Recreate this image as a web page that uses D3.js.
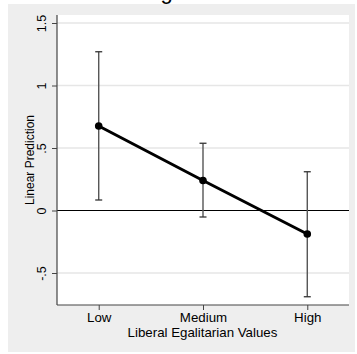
<!DOCTYPE html>
<html>
<head>
<meta charset="utf-8">
<script src="https://cdn.jsdelivr.net/npm/d3@7"></script>
<style>
  html, body { margin: 0; padding: 0; background: #ffffff; }
  svg { display: block; }
  text { font-family: "Liberation Sans", Arial, Helvetica, sans-serif; }
</style>
</head>
<body>
<svg id="chart" width="357" height="354"></svg>
<script>
// Predicted values by level of liberal egalitarian values, with 95% CIs
const categories = ["Low", "Medium", "High"];
const levels = [1, 2, 3];
const margins = [0.676, 0.24, -0.188];
const ciLower = [0.084, -0.052, -0.69];
const ciUpper = [1.27, 0.538, 0.31];
const yTicks = [-0.5, 0, 0.5, 1, 1.5];
const yTickLabels = ["-.5", "0", ".5", "1", "1.5"];

const svg = d3.select("#chart");
const plot = { left: 57, right: 349, top: 15, bottom: 305 };

// Graph region background
svg.append("rect")
  .attr("x", 8).attr("y", 4)
  .attr("width", 347).attr("height", 348)
  .attr("fill", "#eeeeee");

// Title, sitting mostly above the visible area
const title = svg.append("text")
  .attr("y", -1.5)
  .attr("text-anchor", "start")
  .attr("font-size", 22)
  .attr("fill", "#000")
  .text("Predictive Margins");
{
  const t = title.text();
  const gi = t.indexOf("g");
  const start = title.node().getStartPositionOfChar(gi).x;
  const end = title.node().getEndPositionOfChar(gi).x;
  title.attr("x", 166.5 - (start + end) / 2);
}

// Plot region
svg.append("rect")
  .attr("x", plot.left).attr("y", plot.top)
  .attr("width", plot.right - plot.left).attr("height", plot.bottom - plot.top)
  .attr("fill", "#ffffff");

const x = d3.scaleLinear().domain([0.6, 3.4]).range([plot.left, plot.right]);
const y = d3.scaleLinear().domain([-0.756, 1.564]).range([plot.bottom, plot.top]);

// Horizontal gridlines
svg.append("g")
  .selectAll("line")
  .data(yTicks.filter(v => v !== 0))
  .join("line")
  .attr("x1", plot.left).attr("x2", plot.right)
  .attr("y1", d => y(d)).attr("y2", d => y(d))
  .attr("stroke", "#e6e6e6")
  .attr("stroke-width", 1.6);

// Reference line at zero
svg.append("line")
  .attr("x1", plot.left).attr("x2", plot.right)
  .attr("y1", y(0)).attr("y2", y(0))
  .attr("stroke", "#000")
  .attr("stroke-width", 1.2);

// Axes
const yAxis = d3.axisLeft(y)
  .tickValues(yTicks)
  .tickFormat((d, i) => yTickLabels[i])
  .tickSize(5)
  .tickPadding(4);
const gy = svg.append("g")
  .attr("transform", `translate(${plot.left},0)`)
  .call(yAxis);
gy.select(".domain").attr("stroke", "#444").attr("stroke-width", 1.2)
  .attr("d", `M0,${plot.top}V${plot.bottom}`);
gy.selectAll(".tick line").attr("stroke", "#444");
gy.selectAll(".tick text")
  .attr("font-size", 12.5)
  .attr("fill", "#000")
  .attr("text-anchor", "middle")
  .attr("dy", "0")
  .attr("x", 0)
  .attr("y", -11)
  .attr("transform", "rotate(-90)");

const xAxis = d3.axisBottom(x)
  .tickValues(levels)
  .tickFormat((d, i) => categories[i])
  .tickSize(5)
  .tickPadding(3);
const gx = svg.append("g")
  .attr("transform", `translate(0,${plot.bottom})`)
  .call(xAxis);
gx.select(".domain").attr("stroke", "#444").attr("stroke-width", 1.2)
  .attr("d", `M${plot.left},0H${plot.right}`);
gx.selectAll(".tick line").attr("stroke", "#444");
gx.selectAll(".tick text")
  .attr("font-size", 13.3)
  .attr("fill", "#000")
  .attr("dy", "0")
  .attr("y", 17);

// Axis titles
svg.append("text")
  .attr("x", (plot.left + plot.right) / 2 - 0.5)
  .attr("y", 337)
  .attr("text-anchor", "middle")
  .attr("font-size", 13.3)
  .text("Liberal Egalitarian Values");

svg.append("text")
  .attr("transform", `translate(34,${(plot.top + plot.bottom) / 2}) rotate(-90)`)
  .attr("text-anchor", "middle")
  .attr("font-size", 12)
  .text("Linear Prediction");

// Confidence intervals
const ci = svg.append("g");
levels.forEach((lv, i) => {
  const cx = x(lv);
  ci.append("line")
    .attr("x1", cx).attr("x2", cx)
    .attr("y1", y(ciLower[i])).attr("y2", y(ciUpper[i]))
    .attr("stroke", "#555").attr("stroke-width", 1.4);
  [ciLower[i], ciUpper[i]].forEach(v => {
    ci.append("line")
      .attr("x1", cx - 3.5).attr("x2", cx + 3.5)
      .attr("y1", y(v)).attr("y2", y(v))
      .attr("stroke", "#333").attr("stroke-width", 1.3);
  });
});

// Connected margins
const pts = levels.map((lv, i) => [lv, margins[i]]);
svg.append("path")
  .datum(pts)
  .attr("fill", "none")
  .attr("stroke", "#000")
  .attr("stroke-width", 3)
  .attr("d", d3.line().x(d => x(d[0])).y(d => y(d[1])));

svg.append("g")
  .selectAll("circle")
  .data(pts)
  .join("circle")
  .attr("cx", d => x(d[0]))
  .attr("cy", d => y(d[1]))
  .attr("r", 3.8)
  .attr("fill", "#000");
</script>
</body>
</html>
